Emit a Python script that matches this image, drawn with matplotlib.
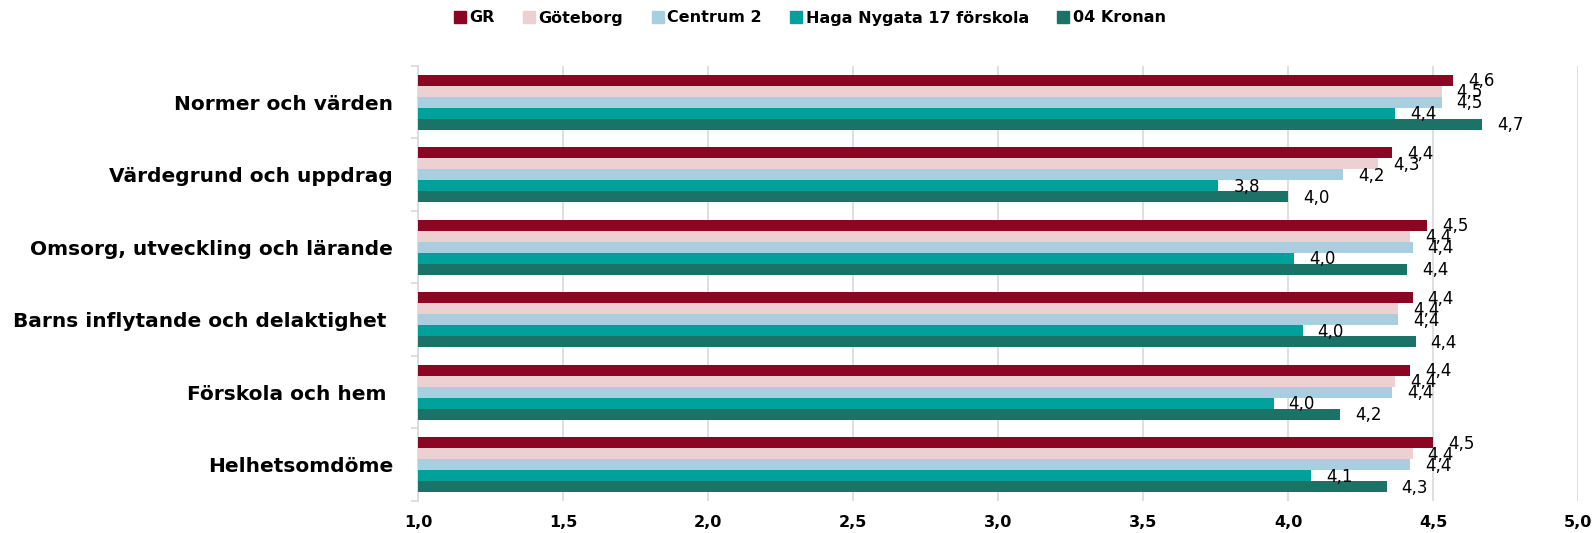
import numpy as np
import matplotlib
matplotlib.use('Agg')
import matplotlib.pyplot as plt
from matplotlib.ticker import MultipleLocator, FuncFormatter

categories = ['Normer och värden', 'Värdegrund och uppdrag', 'Omsorg, utveckling och lärande',
              'Barns inflytande och delaktighet ', 'Förskola och hem ', 'Helhetsomdöme']
series = ['GR', 'Göteborg', 'Centrum 2', 'Haga Nygata 17 förskola', '04 Kronan']

gr = [4.57, 4.36, 4.48, 4.43, 4.42, 4.50]
goteborg = [4.53, 4.31, 4.42, 4.38, 4.37, 4.43]
centrum2 = [4.53, 4.19, 4.43, 4.38, 4.36, 4.42]
haga = [4.37, 3.76, 4.02, 4.05, 3.95, 4.08]
kronan = [4.67, 4.00, 4.41, 4.44, 4.18, 4.34]

colors = ['#8c0624', '#ecd0d2', '#a8cfe0', '#00a19a', '#1b7367']

values = [gr, goteborg, centrum2, haga, kronan]

fig = plt.figure(figsize=(15.95, 5.33), dpi=100)
ax = fig.add_axes([418 / 1595, 1 - 501 / 533, (1578 - 418) / 1595, (501 - 66) / 533])

y = np.arange(len(categories))
h = 0.152
for i, (name, vals) in enumerate(zip(series, values)):
    pos = y - 2 * h + i * h
    ax.barh(pos, np.array(vals) - 1, left=1, height=h, color=colors[i], label=name, zorder=3)
    for p, v in zip(pos, vals):
        ax.annotate(f'{v:.1f}'.replace('.', ','), (v, p), xytext=(15, -1), textcoords='offset pixels',
                    va='center', ha='left', fontsize=12, color='black', zorder=4)

ax.set_xlim(1, 5)
ax.set_ylim(len(categories) - 0.5, -0.5)
ax.xaxis.set_major_locator(MultipleLocator(0.5))
ax.xaxis.set_major_formatter(FuncFormatter(lambda v, _: f'{v:.1f}'.replace('.', ',')))
ax.grid(axis='x', color='#d9d9d9', linewidth=1.2, zorder=0)

ax.set_yticks(y)
ax.set_yticklabels(categories, fontsize=14.5, fontweight='bold')
ax.set_yticks(np.arange(len(categories) + 1) - 0.5, minor=True)
ax.tick_params(axis='y', which='major', length=0, pad=18)
ax.tick_params(axis='y', which='minor', length=5, color='#d9d9d9', width=1.2)
ax.tick_params(axis='x', length=0, pad=10, labelsize=11.5)
for lbl in ax.get_xticklabels():
    lbl.set_fontweight('bold')

for s in ['top', 'right', 'bottom']:
    ax.spines[s].set_visible(False)
ax.spines['left'].set_color('#d9d9d9')
ax.spines['left'].set_linewidth(1.2)

handles = [plt.Line2D([], [], marker='s', linestyle='', markersize=8.5, color=c) for c in colors]
fig.legend(handles, series, loc='center', bbox_to_anchor=(810 / 1595, 1 - 18 / 533), ncol=5,
           frameon=False, handlelength=0.7, handletextpad=0.25, columnspacing=1.8,
           prop={'weight': 'bold', 'size': 11.5})

fig.savefig('out.png', dpi=100)
